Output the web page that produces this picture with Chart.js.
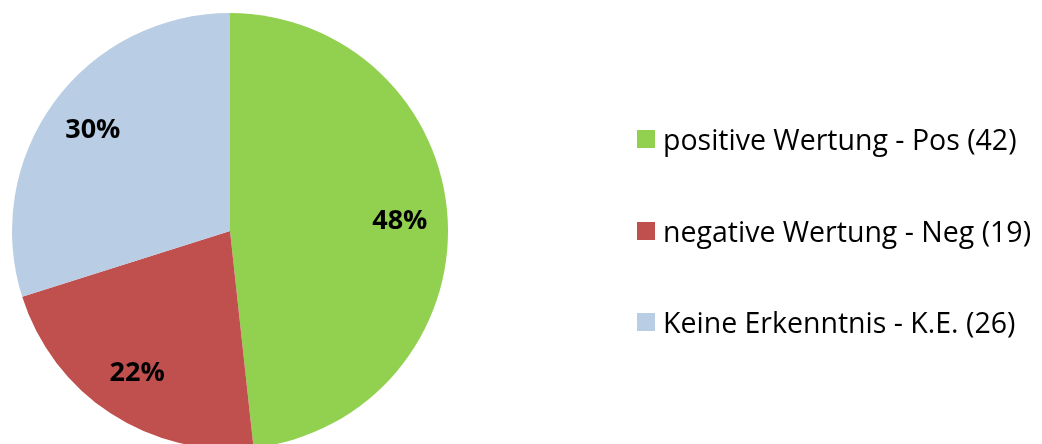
<!DOCTYPE html>
<html>
<head>
<meta charset="utf-8">
<script src="https://cdn.jsdelivr.net/npm/chart.js@4/dist/chart.umd.min.js"></script>
<style>
    html, body { margin: 0; padding: 0; background: #fff; overflow: hidden; }
    #wrap { position: relative; width: 1042px; height: 444px; overflow: hidden; }
    #chart { position: absolute; left: 0; top: 0; }
    #legend { position: absolute; left: 637px; top: 0; font-family: "Open Sans", sans-serif; font-size: 28.5px; color: #000; }
    .item { position: absolute; left: 0; white-space: nowrap; display: flex; align-items: center; height: 30px; }
    .box { width: 18px; height: 18px; margin-right: 8px; }
</style>
</head>
<body>
<div id="wrap">
    <canvas id="chart" width="1042" height="462"></canvas>
    <div id="legend"></div>
</div>
<script>
// Bewertungen
var labels = ['positive Wertung - Pos (42)', 'negative Wertung - Neg (19)', 'Keine Erkenntnis - K.E. (26)'];
var counts = [42, 19, 26];
var colors = ['#92D050', '#C0504D', '#B9CDE5'];

var total = counts.reduce(function (a, b) { return a + b; }, 0);

// Prozent-Beschriftung in den Segmenten
var percentLabels = {
    id: 'percentLabels',
    afterDatasetsDraw: function (chart) {
        var ctx = chart.ctx;
        var meta = chart.getDatasetMeta(0);
        ctx.save();
        ctx.font = 'bold 27px "Open Sans", sans-serif';
        ctx.fillStyle = '#000';
        ctx.textAlign = 'center';
        ctx.textBaseline = 'middle';
        meta.data.forEach(function (arc, i) {
            var p = arc.getProps(['x', 'y', 'startAngle', 'endAngle', 'outerRadius'], true);
            var mid = (p.startAngle + p.endAngle) / 2;
            var r = p.outerRadius * 0.78;
            var txt = Math.round(counts[i] / total * 100) + '%';
            ctx.fillText(txt, p.x + Math.cos(mid) * r, p.y + Math.sin(mid) * r);
        });
        ctx.restore();
    }
};

var ctx = document.getElementById('chart').getContext('2d');
var chart = new Chart(ctx, {
    type: 'pie',
    data: {
        labels: labels,
        datasets: [{
            data: counts,
            backgroundColor: colors,
            borderWidth: 0
        }]
    },
    options: {
        responsive: false,
        animation: false,
        layout: { padding: { left: 12, top: 12, right: 594, bottom: 12 } },
        plugins: {
            legend: { display: false },
            tooltip: { enabled: false }
        }
    },
    plugins: [percentLabels]
});

// Legende rechts
var legend = document.getElementById('legend');
var rowTops = [124, 216, 307];
labels.forEach(function (l, i) {
    var item = document.createElement('div');
    item.className = 'item';
    item.style.top = rowTops[i] + 'px';
    var box = document.createElement('span');
    box.className = 'box';
    box.style.background = colors[i];
    var txt = document.createElement('span');
    txt.textContent = l;
    item.appendChild(box);
    item.appendChild(txt);
    legend.appendChild(item);
});
</script>
</body>
</html>
